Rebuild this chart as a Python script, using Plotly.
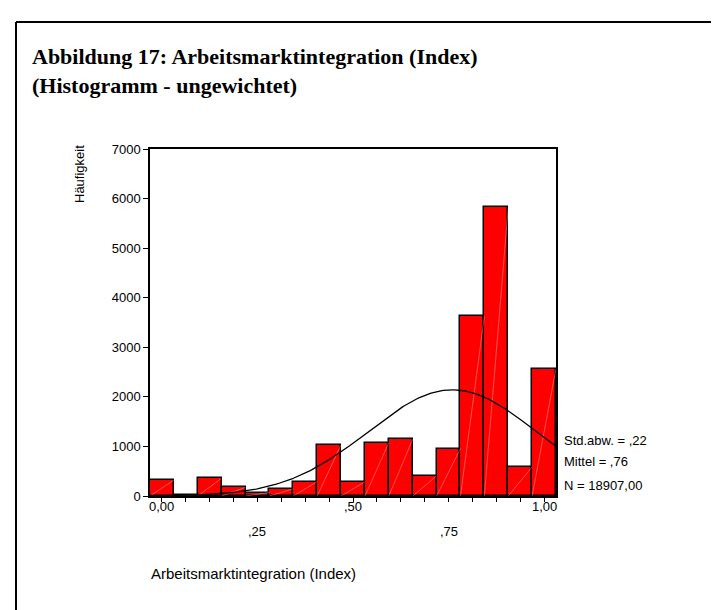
import numpy as np
import plotly.graph_objects as go

# histogram data (bin centres and counts)
bin_centers = [0.0, 0.0625, 0.125, 0.1875, 0.25, 0.3125, 0.375, 0.4375, 0.5,
               0.5625, 0.625, 0.6875, 0.75, 0.8125, 0.875, 0.9375, 1.0]
counts = [320, 25, 360, 175, 70, 145, 290, 1030, 285,
          1075, 1145, 405, 955, 3623, 5820, 585, 2570]
bin_width = 0.0625

# summary statistics shown beside the chart
std_dev = 0.22
mean = 0.76
n_total = 18907

y_tick_vals = [0, 1000, 2000, 3000, 4000, 5000, 6000, 7000]
x_label_vals = [0.0, 0.25, 0.5, 0.75, 1.0]
x_label_text = ["0,00", ",25", ",50", ",75", "1,00"]

stats_lines = ["Std.abw. = ,22", "Mittel = ,76", "N = 18907,00"]

# plot area in pixels
W, H = 719, 610
L, R, T, B = 142, 548, 141, 488


def px_x(px):
    return (px - L) / (R - L)


def px_y(py):
    return (B - py) / (B - T)


x_min = bin_centers[0] - bin_width / 2
x_max = bin_centers[-1] + bin_width / 2

fig = go.Figure()

fig.add_trace(go.Bar(
    x=bin_centers,
    y=counts,
    width=bin_width,
    marker=dict(color='#FF0000', line=dict(color='black', width=1.5)),
    hoverinfo='x+y'
))

# faint diagonal line inside each bar (SPSS fill artefact)
diag_x, diag_y = [], []
for c, n in zip(bin_centers, counts):
    diag_x += [c - bin_width / 2, c + bin_width / 2, None]
    diag_y += [0, n, None]
fig.add_trace(go.Scatter(
    x=diag_x, y=diag_y, mode='lines',
    line=dict(color='rgba(255,255,255,0.4)', width=0.8),
    hoverinfo='skip'
))

# normal curve from the displayed mean / sd / N
xs = np.linspace(x_min, x_max, 300)
ys = n_total * bin_width / (std_dev * np.sqrt(2 * np.pi)) * np.exp(-0.5 * ((xs - mean) / std_dev) ** 2)
fig.add_trace(go.Scatter(
    x=xs, y=ys, mode='lines',
    line=dict(color='black', width=1.3),
    hoverinfo='skip'
))

label_font = dict(family='Liberation Sans', size=13, color='black')

# staggered x tick labels
for i, (v, t) in enumerate(zip(x_label_vals, x_label_text)):
    fig.add_annotation(
        x=v, xref='x', y=px_y(499 if i % 2 == 0 else 523), yref='paper',
        text=t, showarrow=False, xanchor='center', yanchor='middle',
        font=label_font
    )

# statistics box text
for py, t in zip([432, 453, 477], stats_lines):
    fig.add_annotation(
        x=px_x(554), xref='paper', y=px_y(py), yref='paper',
        text=t, showarrow=False, xanchor='left', yanchor='middle',
        font=label_font
    )

# axis titles
fig.add_annotation(
    x=px_x(71), xref='paper', y=px_y(166), yref='paper',
    text='Häufigkeit', textangle=-90, showarrow=False,
    xanchor='center', yanchor='middle', font=label_font
)
fig.add_annotation(
    x=px_x(141), xref='paper', y=px_y(565), yref='paper',
    text='Arbeitsmarktintegration (Index)', showarrow=False,
    xanchor='left', yanchor='middle',
    font=dict(family='Liberation Sans', size=15, color='black')
)

# title
fig.add_annotation(
    x=px_x(22), xref='paper', y=px_y(63), yref='paper',
    text='<b>Abbildung 17: Arbeitsmarktintegration (Index)<br>(Histogramm - ungewichtet)</b>',
    showarrow=False, xanchor='left', yanchor='middle', align='left',
    font=dict(family='Liberation Serif', size=22, color='black')
)

# outer frame (top and left edges)
fig.add_shape(type='line', xref='paper', yref='paper',
              x0=px_x(8), y0=px_y(14), x1=px_x(W + 5), y1=px_y(14),
              line=dict(color='black', width=2))
fig.add_shape(type='line', xref='paper', yref='paper',
              x0=px_x(8), y0=px_y(14), x1=px_x(8), y1=px_y(H + 5),
              line=dict(color='black', width=2))

fig.update_layout(
    width=W, height=H,
    margin=dict(l=L, r=W - R, t=T, b=H - B),
    paper_bgcolor='white',
    plot_bgcolor='white',
    showlegend=False,
    bargap=0,
    font=dict(family='Liberation Sans', color='black'),
    xaxis=dict(
        range=[x_min, x_max], showgrid=False, zeroline=False,
        showline=True, linecolor='black', linewidth=1.5, mirror=True,
        ticks='outside', tickvals=bin_centers, ticklen=4, tickcolor='black',
        showticklabels=False, fixedrange=True
    ),
    yaxis=dict(
        range=[0, 7000], showgrid=False, zeroline=False,
        showline=True, linecolor='black', linewidth=1.5, mirror=True,
        ticks='outside', tickvals=y_tick_vals, ticklen=5, tickcolor='black',
        tickfont=dict(family='Liberation Sans', size=13, color='black'),
        fixedrange=True
    )
)

fig.write_html("out.html")
